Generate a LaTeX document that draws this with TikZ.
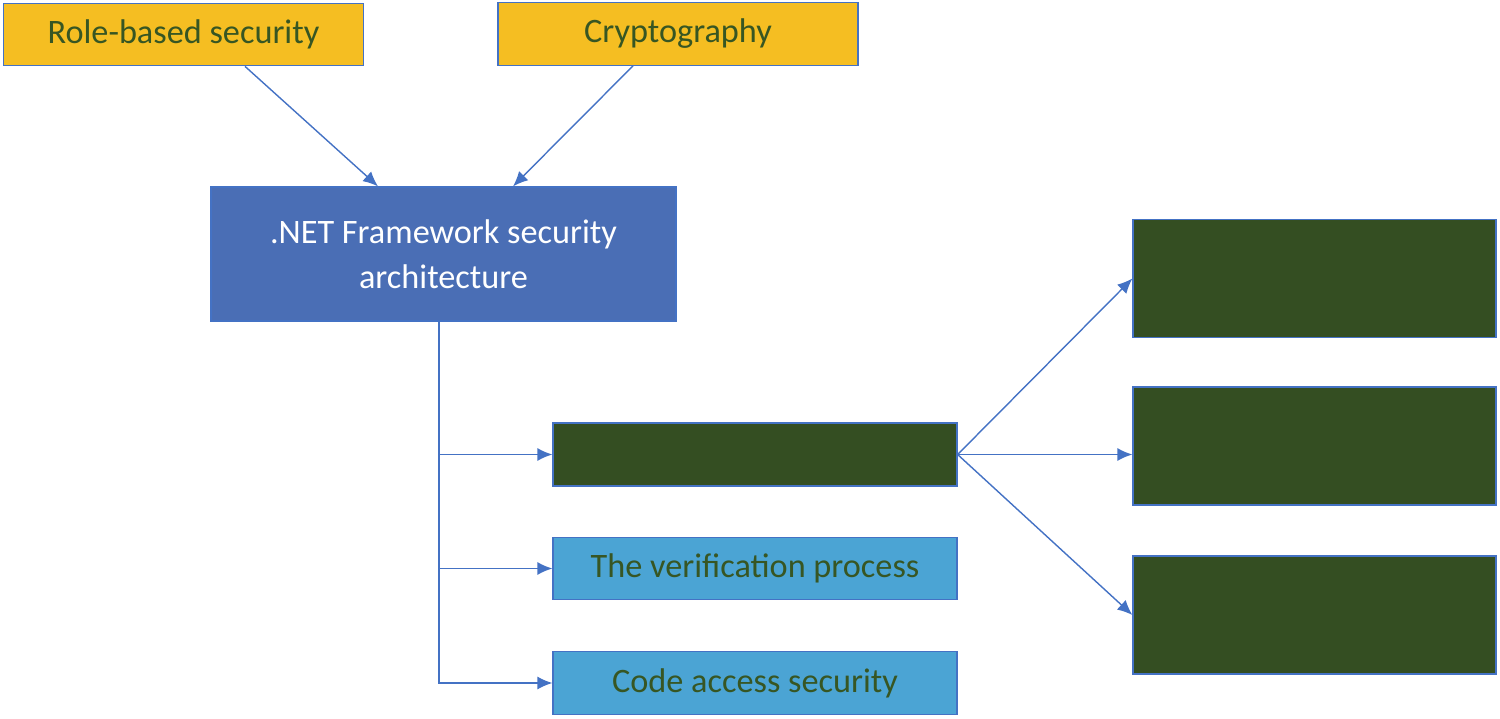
\documentclass[tikz,border=0pt]{standalone}
\usepackage{fontspec}
\setmainfont{Carlito}
\usetikzlibrary{arrows.meta}
\definecolor{topicfill}{HTML}{F5BE22}
\definecolor{topictext}{HTML}{375623}
\definecolor{corefill}{HTML}{4A6EB5}
\definecolor{partfill}{HTML}{4BA4D4}
\definecolor{hiddenfill}{HTML}{344E22}
\definecolor{edge}{HTML}{4472C4}
\tikzset{
    every node/.style={align=center,font=\fontsize{19.5}{25.6}\selectfont,},
    box/.style={draw=edge,line width=0.7pt,rectangle,inner sep=0pt,},
    topic/.style={box,fill=topicfill,text=topictext,minimum width=7.2cm,minimum height=1.25cm,},
    core/.style={box,fill=corefill,text=white,minimum width=9.3cm,minimum height=2.68cm,},
    part/.style={box,fill=partfill,text=topictext,minimum width=8.08cm,minimum height=1.25cm,},
    hidden/.style={box,fill=hiddenfill,minimum width=8.08cm,minimum height=1.26cm,},
    leaf/.style={box,fill=hiddenfill,minimum width=7.26cm,minimum height=2.36cm,},
    link/.style={-{Latex[length=3mm,width=2.6mm]},draw=edge,line width=0.8pt,},
}

\begin{document}
\begin{tikzpicture}
                \useasboundingbox (0,0) rectangle (30,-14.38);

                \node[topic] (role) at (3.67, -0.69) {Role-based security};
                \node[topic] (crypto) at (13.56, -0.68) {Cryptography};

                \node[core] (net) at (8.87, -5.08) {.NET Framework security\\architecture};

                \node[hidden] (mid) at (15.1, -9.09) {};
                \node[part] (verify) at (15.1, -11.37) {The verification process};
                \node[part] (cas) at (15.1, -13.66) {Code access security};

                \node[leaf] (leafa) at (26.29, -5.57) {};
                \node[leaf] (leafb) at (26.29, -8.92) {};
                \node[leaf] (leafc) at (26.29, -12.3) {};

                \coordinate (trunk) at ([xshift=-0.09cm]net.south);

                \draw[link] ([xshift=1.23cm]role.south) to ([xshift=-1.31cm]net.north);
                \draw[link] ([xshift=-0.9cm]crypto.south) to ([xshift=1.39cm]net.north);

                \draw[link] (trunk) |- (mid.west);
                \draw[link] (trunk) |- (verify.west);
                \draw[link] (trunk) |- (cas.west);

                \draw[link] (mid.east) to (leafa.west);
                \draw[link] (mid.east) to (mid.east -| leafb.west);
                \draw[link] (mid.east) to (leafc.west);
            \end{tikzpicture}
\end{document}
